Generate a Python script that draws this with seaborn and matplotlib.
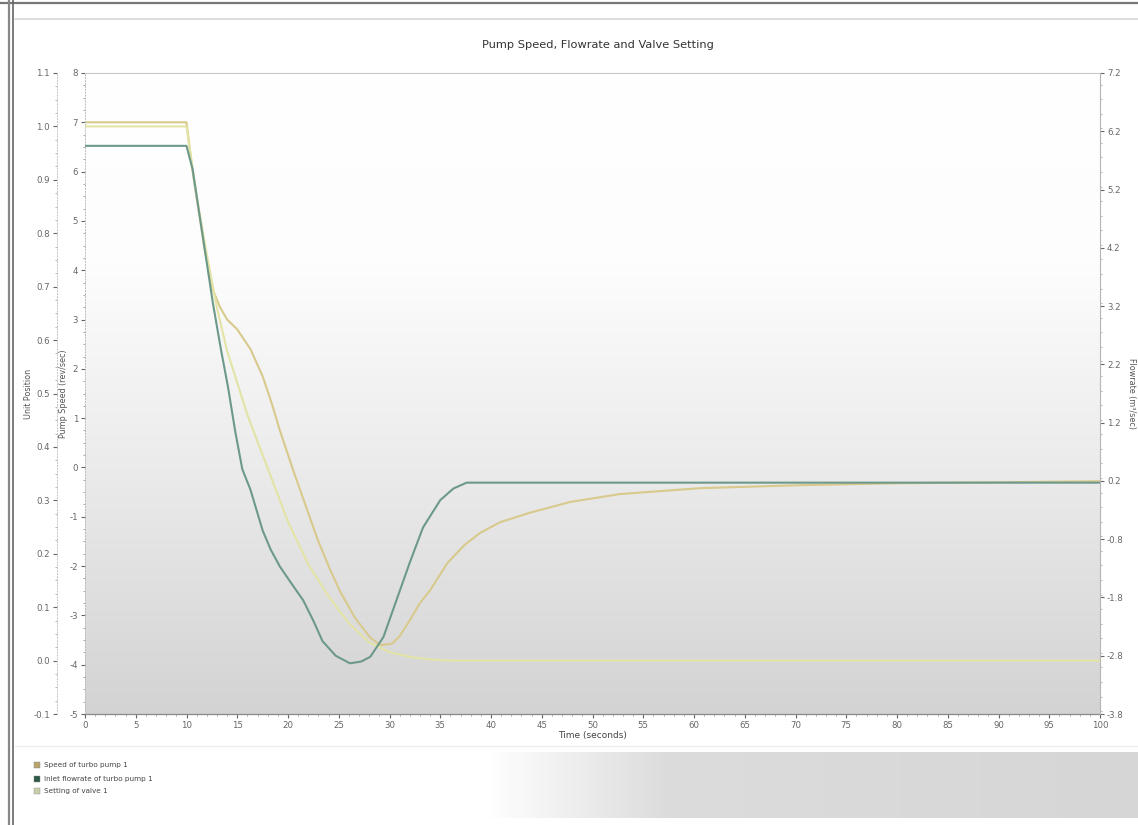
import numpy as np
import pandas as pd
import matplotlib
matplotlib.use("Agg")
import matplotlib.pyplot as plt
import seaborn as sns
from matplotlib.colors import LinearSegmentedColormap
from matplotlib.lines import Line2D
from matplotlib.patches import Rectangle
from matplotlib.ticker import MultipleLocator

# ---------------- data ----------------
time_speed = [0, 10, 10.6, 11.2, 11.8, 12.6, 13.3, 14.0, 15.0, 16.3, 17.5, 18.4, 19.2,
              20.5, 21.7, 22.9, 24.1, 25.1, 26.6, 28.1, 29.1, 30.2, 31.0, 32.0, 33.0,
              34.0, 35.7, 37.4, 38.9, 40.9, 43.8, 47.8, 52.7, 60.6, 70.4, 80.3, 90.1, 100]
speed = [7.0, 7.0, 6.0, 5.2, 4.4, 3.6, 3.25, 3.0, 2.8, 2.4, 1.85, 1.3, 0.75,
         -0.05, -0.75, -1.45, -2.05, -2.5, -3.05, -3.45, -3.6, -3.58, -3.42, -3.1, -2.75,
         -2.49, -1.94, -1.57, -1.33, -1.11, -0.92, -0.7, -0.54, -0.42, -0.36, -0.32, -0.3, -0.28]

time_flow = [0, 10, 10.6, 11.6, 12.6, 13.4, 14.1, 14.8, 15.5, 16.3, 17.5, 18.3, 19.2,
             20.3, 21.5, 22.5, 23.4, 24.7, 26.1, 27.2, 28.1, 29.4, 30.7, 32.0, 33.3,
             35.0, 36.3, 37.6, 100]
flow = [5.95, 5.95, 5.55, 4.4, 3.25, 2.45, 1.8, 1.05, 0.4, 0.05, -0.65, -0.98, -1.27,
        -1.55, -1.85, -2.2, -2.55, -2.8, -2.93, -2.9, -2.82, -2.48, -1.84, -1.2, -0.6,
        -0.13, 0.07, 0.17, 0.17]

time_valve = [0, 10, 11, 12, 13, 14, 15, 16, 17, 18, 19, 20, 22, 24, 26, 28, 30, 32, 34, 36, 100]
valve = [1.0, 1.0, 0.87, 0.76, 0.66, 0.58, 0.52, 0.46, 0.41, 0.36, 0.31, 0.26, 0.18,
         0.12, 0.07, 0.034, 0.016, 0.007, 0.002, 0.0, 0.0]

series_names = ["Speed of turbo pump 1", "Inlet flowrate of turbo pump 1", "Setting of valve 1"]
line_colors = ["#d8c98c", "#6d998b", "#e4e3a6"]
legend_colors = ["#b9a46e", "#2f5a48", "#c9d0aa"]

x_ticks = list(range(0, 101, 5))
speed_ticks = list(range(-5, 9))
valve_ticks = [round(-0.1 + 0.1 * i, 1) for i in range(13)]
flow_ticks = [round(-3.8 + 1.0 * i, 1) for i in range(12)]

title = "Pump Speed, Flowrate and Valve Setting"
x_label = "Time (seconds)"
speed_label = "Pump Speed (rev/sec)"
valve_label = "Unit Position"
flow_label = "Flowrate (m\u00b3/sec)"

# ---------------- figure ----------------
sns.set_theme(style="white")
plt.rcParams["font.family"] = ["DejaVu Sans"]
plt.rcParams["axes.unicode_minus"] = False
W, H = 1138, 825
fig = plt.figure(figsize=(W / 100, H / 100), dpi=100)
fig.patch.set_facecolor("white")

def fx(px):
    return px / W

def fy(py):
    return 1 - py / H

L, R, T, B = 85, 1100, 73, 714
pos = [fx(L), fy(B), fx(R - L), (B - T) / H]

# plot-area gradient background
bg = fig.add_axes(pos, zorder=0)
grad_cmap = LinearSegmentedColormap.from_list(
    "g", [(0, "#ffffff"), (0.3, "#fdfdfd"), (0.6, "#ececec"), (1.0, "#d3d3d3")])
bg.imshow(np.linspace(0, 1, 256).reshape(-1, 1), aspect="auto", cmap=grad_cmap,
          extent=[0, 1, 0, 1], origin="upper")
bg.set_axis_off()

# legend-area gradient band
lg = fig.add_axes([fx(15), fy(818), fx(W - 15), 66 / H], zorder=0)
band_cmap = LinearSegmentedColormap.from_list(
    "b", [(0, "#ffffff"), (0.42, "#ffffff"), (0.58, "#dcdcdc"), (1.0, "#d6d6d6")])
lg.imshow(np.linspace(0, 1, 512).reshape(1, -1), aspect="auto", cmap=band_cmap,
          extent=[0, 1, 0, 1])
lg.set_axis_off()

ax = fig.add_axes(pos, zorder=2)
ax.patch.set_alpha(0)
ax_v = ax.twinx()
ax_f = ax.twinx()

df_s = pd.DataFrame({"t": time_speed, "v": speed})
df_f = pd.DataFrame({"t": time_flow, "v": flow})
df_v = pd.DataFrame({"t": time_valve, "v": valve})

sns.lineplot(data=df_v, x="t", y="v", ax=ax_v, color=line_colors[2], lw=1.5)
sns.lineplot(data=df_s, x="t", y="v", ax=ax, color=line_colors[0], lw=1.5)
sns.lineplot(data=df_f, x="t", y="v", ax=ax_f, color=line_colors[1], lw=1.5)

ax.set_xlim(0, 100)
ax.set_ylim(-5, 8)
ax_v.set_ylim(-0.1, 1.1)
ax_f.set_ylim(-3.8, 7.2)

tick_col = "#666666"
lab_fs = 6.2

ax.set_xticks(x_ticks)
ax.xaxis.set_minor_locator(MultipleLocator(1))
ax.set_yticks(speed_ticks)
ax.yaxis.set_minor_locator(MultipleLocator(0.25))
ax.tick_params(axis="both", which="major", labelsize=lab_fs, colors=tick_col,
               length=3, width=0.8, direction="out", pad=2, left=True, bottom=True)
ax.tick_params(axis="both", which="minor", length=1.5, width=0.6, colors="#999999",
               left=True, bottom=True)
ax.set_xlabel(x_label, fontsize=6.5, color="#444444", labelpad=1)
ax.set_ylabel(speed_label, fontsize=5.8, color="#555555")
ax.yaxis.set_label_coords((68 - L) / (R - L), 0.5)

ax_v.yaxis.set_ticks_position("left")
ax_v.yaxis.set_label_position("left")
ax_v.spines["left"].set_position(("outward", 28 * 0.72))
ax_v.set_yticks(valve_ticks)
ax_v.set_yticklabels([f"{v:.1f}" for v in valve_ticks])
ax_v.yaxis.set_minor_locator(MultipleLocator(0.025))
ax_v.tick_params(axis="y", which="major", labelsize=lab_fs, colors=tick_col,
                 length=3, width=0.8, pad=2, left=True, right=False)
ax_v.tick_params(axis="y", which="minor", length=1.5, width=0.6, colors="#aaaaaa",
                 left=True, right=False)
ax_v.set_ylabel(valve_label, fontsize=5.8, color="#555555")
ax_v.yaxis.set_label_coords((33 - L) / (R - L), 0.5)

ax_f.set_yticks(flow_ticks)
ax_f.set_yticklabels([f"{v:.1f}" for v in flow_ticks])
ax_f.yaxis.set_minor_locator(MultipleLocator(0.25))
ax_f.tick_params(axis="y", which="major", labelsize=lab_fs, colors=tick_col,
                 length=3, width=0.8, pad=2, right=True)
ax_f.tick_params(axis="y", which="minor", length=1.5, width=0.6, colors="#aaaaaa", right=True)
ax_f.set_ylabel(flow_label, fontsize=5.8, color="#555555", rotation=270, labelpad=9)

for a in (ax, ax_v, ax_f):
    for s in a.spines.values():
        s.set_visible(False)
ax_v.set_xlabel("")
ax_f.set_xlabel("")
ax.spines["bottom"].set_visible(True)
ax.spines["bottom"].set_color("#8a8a8a")
ax.spines["bottom"].set_linewidth(0.9)
ax.spines["left"].set_visible(True)
ax.spines["left"].set_color("#bbbbbb")
ax.spines["left"].set_linewidth(0.7)
ax.spines["left"].set_linestyle((0, (1, 2)))
ax.spines["top"].set_visible(True)
ax.spines["top"].set_color("#c8c8c8")
ax.spines["top"].set_linewidth(0.8)
ax_f.spines["right"].set_visible(True)
ax_f.spines["right"].set_color("#b5b5b5")
ax_f.spines["right"].set_linewidth(0.8)
ax_v.spines["left"].set_visible(True)
ax_v.spines["left"].set_color("#c4c4c4")
ax_v.spines["left"].set_linewidth(0.7)
ax_v.spines["left"].set_linestyle((0, (1, 2)))

fig.text(fx(598), fy(45), title, ha="center", va="center", fontsize=8.2, color="#333333")

# legend (custom, below plot)
ys = [765, 779, 791]
for name, c, yy in zip(series_names, legend_colors, ys):
    fig.add_artist(Rectangle((fx(34), fy(yy + 3)), 6 / W, 6 / H, transform=fig.transFigure,
                             facecolor=c, edgecolor="#888888", lw=0.3))
    fig.text(fx(44), fy(yy), name, ha="left", va="center", fontsize=5.2, color="#444444")

# screenshot frame lines
fig.add_artist(Line2D([fx(0), fx(W)], [fy(3), fy(3)], color="#777777", lw=1.6, transform=fig.transFigure))
fig.add_artist(Line2D([fx(9), fx(9)], [fy(0), fy(H)], color="#888888", lw=1.6, transform=fig.transFigure))
fig.add_artist(Line2D([fx(13), fx(13)], [fy(0), fy(H)], color="#666666", lw=1.2, transform=fig.transFigure))
fig.add_artist(Line2D([fx(15), fx(W)], [fy(19), fy(19)], color="#dddddd", lw=1.5, transform=fig.transFigure))
fig.add_artist(Line2D([fx(15), fx(W)], [fy(746), fy(746)], color="#eeeeee", lw=1.0, transform=fig.transFigure))

fig.savefig("out.png", dpi=100, facecolor="white")
